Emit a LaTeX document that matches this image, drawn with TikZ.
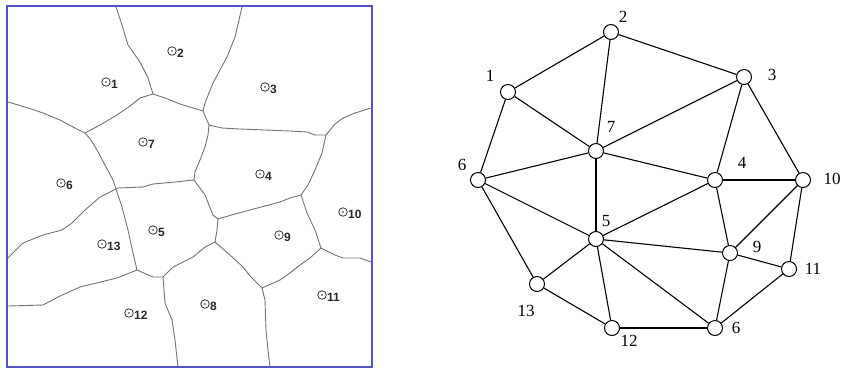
\documentclass[tikz,border=0pt]{standalone}
\usepackage{fontspec}
\setmainfont{Liberation Serif}
\newfontfamily\sitefont{Liberation Sans}
\begin{document}
\begin{tikzpicture}[x=1pt,y=-1pt,
  vedge/.style={draw=black!55, line width=0.9pt, line join=round},
  frame/.style={draw=blue!50!gray!90, line width=1.4pt},
  gnode/.style={circle, draw, fill=white, minimum size=15pt, inner sep=0pt, line width=1pt},
  gedge/.style={line width=1.1pt},
  glabel/.style={font=\fontsize{17}{20}\selectfont, inner sep=0pt},
  sitec/.style={circle, draw=black!80, minimum size=8.5pt, inner sep=0pt, line width=0.8pt},
  sitelbl/.style={font=\sitefont\bfseries\fontsize{12}{14}\selectfont, text=black!85, inner sep=0.3pt, anchor=west}]
\useasboundingbox (0,0) rectangle (843,368);

% ---------- Voronoi diagram ----------
\coordinate (A) at (153,94);
\coordinate (B) at (203,111);
\coordinate (B2) at (209,125);
\coordinate (C) at (326,135);
\coordinate (D) at (301,195);
\coordinate (E) at (218,219);
\coordinate (F) at (321,248);
\coordinate (G) at (262,288);
\coordinate (H) at (215,242);
\coordinate (I) at (116,189);
\coordinate (J) at (194,180);
\coordinate (K) at (85,133);
\coordinate (L) at (137,270);
\coordinate (M) at (163,277);

\draw[vedge] (116,7) -- (122,25) -- (128,45) -- (140,62) -- (148,78) -- (A);
\draw[vedge] (A) -- (165,98) -- (180,104) -- (B);
\draw[vedge] (242,7) -- (235,37) -- (227,57) -- (213,83) -- (205,103) -- (B);
\draw[vedge] (B) -- (B2);
\draw[vedge] (B2) -- (222,128) -- (240,129) -- (265,130) -- (290,131) -- (307,132) -- (315,135) -- (C);
\draw[vedge] (C) -- (335,124) -- (343,118) -- (355,113) -- (371,108);
\draw[vedge] (C) -- (322,153) -- (315,170) -- (308,185) -- (D);
\draw[vedge] (D) -- (290,198) -- (280,202) -- (265,206) -- (250,210) -- (235,214) -- (E);
\draw[vedge] (D) -- (307,213) -- (315,230) -- (F);
\draw[vedge] (F) -- (335,255) -- (343,258) -- (360,258) -- (371,262);
\draw[vedge] (F) -- (310,258) -- (300,265) -- (290,273) -- (280,280) -- (G);
\draw[vedge] (G) -- (265,300) -- (266,330) -- (268,350) -- (270,367);
\draw[vedge] (G) -- (250,276) -- (243,267) -- (230,255) -- (H);
\draw[vedge] (H) -- (217,230) -- (E);
\draw[vedge] (E) -- (213,215) -- (209,205) -- (205,195) -- (J);
\draw[vedge] (J) -- (195,172) -- (200,160) -- (205,147) -- (208,135) -- (B2);
\draw[vedge] (J) -- (175,182) -- (153,184) -- (143,187) -- (118,188) -- (I);
\draw[vedge] (I) -- (113,180) -- (105,165) -- (97,150) -- (91,140) -- (K);
\draw[vedge] (K) -- (100,125) -- (117,115) -- (130,106) -- (140,98) -- (A);
\draw[vedge] (K) -- (73,127) -- (60,120) -- (43,113) -- (25,107) -- (8,102);
\draw[vedge] (I) -- (100,197) -- (85,210) -- (72,223) -- (62,230) -- (43,235) -- (23,243) -- (8,258);
\draw[vedge] (I) -- (122,207) -- (128,230) -- (133,253) -- (L);
\draw[vedge] (L) -- (153,277) -- (M);
\draw[vedge] (M) -- (173,267) -- (193,257) -- (205,247) -- (H);
\draw[vedge] (M) -- (165,303) -- (172,320) -- (175,340) -- (178,367);
\draw[vedge] (L) -- (117,278) -- (80,287) -- (60,296) -- (43,305) -- (8,306);

\draw[frame] (7,6) rectangle (372,367);

\foreach \n/\x/\y in {1/106/82, 2/172/51, 3/265/87, 4/260/174, 5/153/230, 6/61/183,
  7/143/142, 8/205/304, 9/279/235, 10/343/212, 11/322/295, 12/129/313, 13/102/244} {
  \node[sitec] (s\n) at (\x,\y) {};
  \fill[black!85] (s\n.center) circle (0.9pt);
  \node[sitelbl] (t\n) at ([yshift=-2pt]s\n.east) {\n};
}

% ---------- Delaunay graph ----------
\node[gnode] (n1) at (508,92) {};
\node[gnode] (n2) at (611,32) {};
\node[gnode] (n3) at (744,77) {};
\node[gnode] (n4) at (715,180) {};
\node[gnode] (n5) at (596,239) {};
\node[gnode] (n6) at (478,180) {};
\node[gnode] (n7) at (596,151) {};
\node[gnode] (n9) at (730,253) {};
\node[gnode] (n10) at (803,180) {};
\node[gnode] (n11) at (789,269) {};
\node[gnode] (n12) at (612,328) {};
\node[gnode] (n13) at (537,284) {};
\node[gnode] (n6b) at (715,328) {};

\foreach \a/\b in {n1/n2, n2/n3, n2/n7, n1/n7, n1/n6, n6/n7, n7/n3, n7/n4, n7/n5,
  n3/n4, n3/n10, n4/n10, n6/n5, n6/n13, n13/n5, n13/n12, n5/n12, n5/n4, n5/n9,
  n5/n6b, n4/n9, n10/n9, n10/n11, n9/n11, n9/n6b, n11/n6b, n12/n6b}
  \draw[gedge] (\a) -- (\b);

\node[glabel] (l1) at (490,76) {1};
\node[glabel] (l2) at (623,17) {2};
\node[glabel] (l3) at (772,75) {3};
\node[glabel] (l4) at (742,163) {4};
\node[glabel] (l5) at (606,221) {5};
\node[glabel] (l6) at (462,165) {6};
\node[glabel] (l7) at (611,127) {7};
\node[glabel] (l9) at (757,247) {9};
\node[glabel] (l10) at (832,179) {10};
\node[glabel] (l11) at (813,269) {11};
\node[glabel] (l12) at (629,341) {12};
\node[glabel] (l13) at (526,311) {13};
\node[glabel] (l6b) at (736,328) {6};
\end{tikzpicture}
\end{document}
